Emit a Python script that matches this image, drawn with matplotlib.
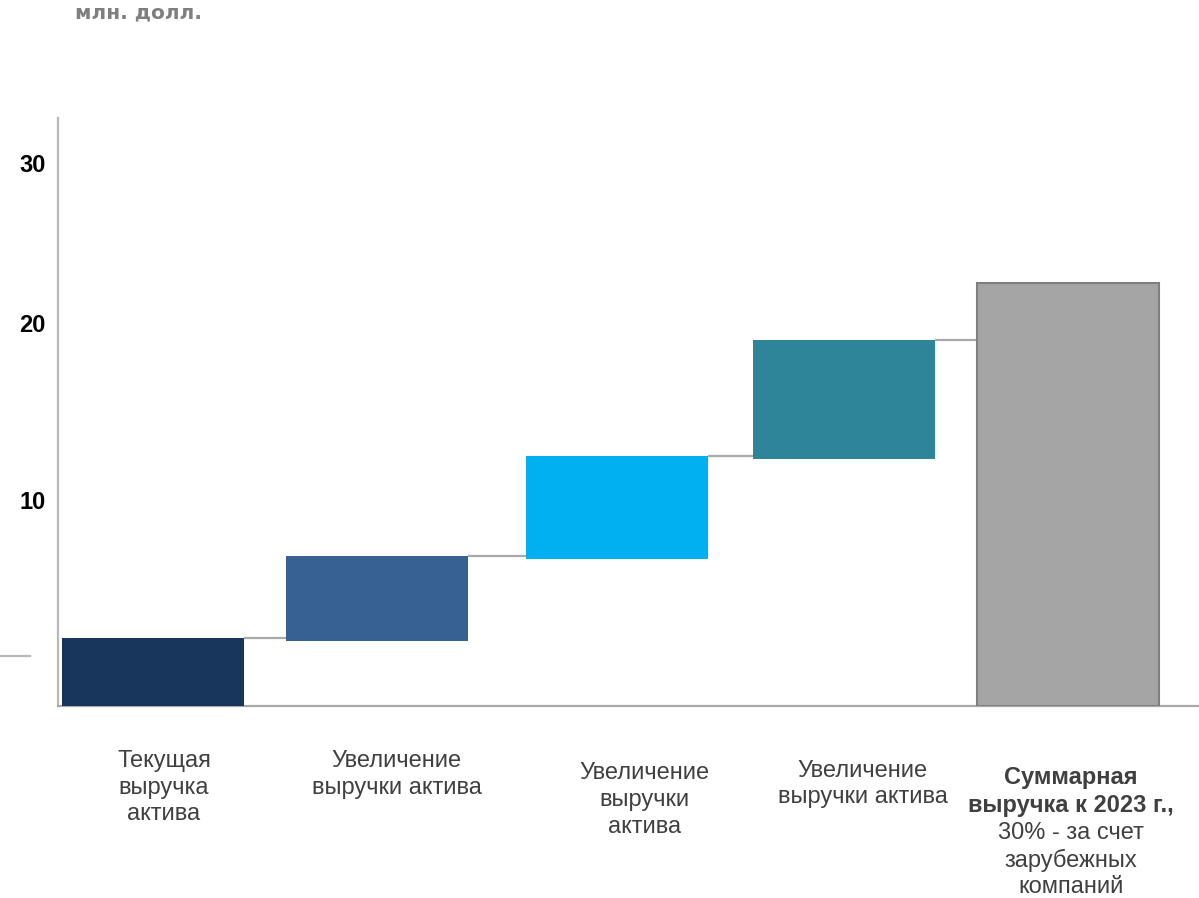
import matplotlib
matplotlib.use("Agg")
import matplotlib.pyplot as plt
import matplotlib.transforms as mtransforms

# data (units)
categories = ["Текущая\nвыручка\nактива",
              "Увеличение\nвыручки актива",
              "Увеличение\nвыручки\nактива",
              "Увеличение\nвыручки актива",
              "Суммарная\nвыручка к 2023 г.,"]
last_note = "30% - за счет\nзарубежных\nкомпаний"
bar_bottom = [0, 3.4, 7.7, 12.9, 0]
bar_top = [3.55, 7.85, 13.05, 19.1, 22.1]
colors = ["#18365c", "#366190", "#00b0f0", "#2e8599", "#a5a5a5"]
tick_labels = ["10", "20", "30"]

# layout
x = [0, 0.98, 2.03, 3.02, 4]
w = 0.795
ytick_pos = [10.76, 20, 28.36]
lab_dx = [0.05, 0.087, 0.118, 0.083, 0.013]
lab_top = [-0.075, -0.075, -0.096, -0.091, -0.102]

plt.rcParams["font.family"] = ["Liberation Sans", "DejaVu Sans"]

fig = plt.figure(figsize=(11.99, 8.98), dpi=100)
ax = fig.add_axes([58/1199, 1-706/898, 1141/1199, 588/898])

heights = [t - b for t, b in zip(bar_top, bar_bottom)]
ax.bar(x[:4], heights[:4], bottom=bar_bottom[:4], width=w, color=colors[:4],
       linewidth=0, align="center", zorder=3)
ax.bar(x[4], heights[4], bottom=bar_bottom[4], width=w, color=colors[4],
       edgecolor="#7f7f7f", linewidth=1.5, zorder=3)

# connectors
for i in range(4):
    ax.plot([x[i] + w/2, x[i+1] - w/2], [bar_top[i], bar_top[i]],
            color="#a9a9a9", lw=1.6, zorder=2, solid_capstyle="butt")

ax.set_xlim(-0.413, 4.572)
ax.set_ylim(0, 30.7)
ax.set_xticks([])
ax.set_yticks(ytick_pos)
ax.set_yticklabels(tick_labels, fontsize=17, fontweight="bold", color="black")
ax.tick_params(axis="y", length=0, pad=9)

for s in ["top", "right"]:
    ax.spines[s].set_visible(False)
ax.spines["left"].set_color("#b8b8b8")
ax.spines["left"].set_linewidth(1.6)
ax.spines["bottom"].set_color("#aaaaaa")
ax.spines["bottom"].set_linewidth(1.6)

# short stray line on the left
tr = mtransforms.blended_transform_factory(ax.transAxes, ax.transData)
ax.plot([-0.051, -0.0245], [2.61, 2.61], transform=tr, color="#b8b8b8",
        lw=1.6, clip_on=False)

trx = mtransforms.blended_transform_factory(ax.transData, ax.transAxes)
for i, lab in enumerate(categories):
    ax.text(x[i] + lab_dx[i], lab_top[i], lab, transform=trx, ha="center",
            va="top", fontsize=17, color="#404040", linespacing=1.27,
            fontweight="bold" if i == 4 else "normal")
ax.text(x[4] + lab_dx[4], lab_top[4] - 0.095, last_note, transform=trx,
        ha="center", va="top", fontsize=17, color="#404040", linespacing=1.27)

fig.text(75/1199, 1-3/898, "млн. долл.", ha="left", va="top", fontsize=14.5,
         fontweight="bold", color="#7f7f7f", family="DejaVu Sans")

fig.savefig("out.png", dpi=100)
